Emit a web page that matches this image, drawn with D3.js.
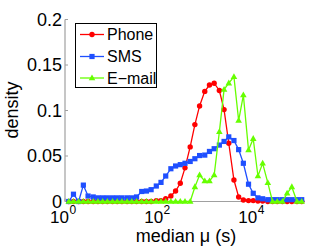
<!DOCTYPE html>
<html><head><meta charset="utf-8">
<script src="https://cdn.jsdelivr.net/npm/d3@7"></script>
<style>body{margin:0;background:#fff}svg{display:block}text{font-family:"Liberation Sans",Arial,sans-serif}</style>
</head><body><svg id="c" width="332" height="250"></svg>
<script>
// log10 of bin centres (median μ in seconds)
const binExponents = [0.08,0.18,0.29,0.39,0.49,0.60,0.70,0.80,0.90,1.01,1.11,1.21,1.32,1.42,1.52,1.63,1.73,1.83,1.94,2.04,2.14,2.25,2.35,2.45,2.55,2.66,2.76,2.86,2.97,3.07,3.17,3.28,3.38,3.48,3.59,3.69,3.79,3.90,4.00,4.10,4.20,4.31,4.41,4.51,4.62,4.72,4.82,4.93,5.03];
const phone = [0,0,0,0,0,0,0,0,0,0,0,0,0,0,0,0,0,0,0.001,0.001,0.003,0.006,0.0115,0.02,0.037,0.06,0.0845,0.105,0.121,0.128,0.13,0.122,0.101,0.064,0.0236,0.005,0.0017,0.001,0.001,0.0005,0.0005,0,0,0,0,0,0,0,0];
const sms = [0,0.008,0,0.018,0.006,0.005,0.004,0.004,0.004,0.004,0.004,0.004,0.004,0.004,0.005,0.011,0.0115,0.013,0.017,0.021,0.028,0.036,0.039,0.0405,0.042,0.044,0.047,0.0505,0.051,0.055,0.058,0.062,0.066,0.071,0.067,0.057,0.042,0.019,0.009,0.004,0.003,0.002,0.002,0.002,0.002,0.002,0.002,0.002,0.002];
const email = [0,0,0,0,0,0,0,0,0,0,0,0,0,0,0,0,0,0,0,0,0,0,0,0,0,0,0.016,0.029,0.0225,0.0225,0.029,0.0765,0.123,0.13,0.137,0.089,0.117,0.0565,0.069,0.028,0.042,0.0205,0,0,0,0.009,0.016,0,0];
const seriesNames = ["Phone","SMS","E\u2212mail"];
const seriesColors = ["#ff0000","#1f4fff","#66ff00"];
const yTicks = [0,0.05,0.1,0.15,0.2];
const yTickLabels = ["0","0.05","0.1","0.15","0.2"];
const xTickExps = [0,2,4];

const svg = d3.select("#c");
const x = d3.scaleLog().domain([1, Math.pow(10,5.1)]).range([65, 305]);
const y = d3.scaleLinear().domain([0,0.2]).range([201.5, 19.5]);
const xs = binExponents.map(e => Math.pow(10,e));

// axes
const axisCol = "#a0a0a0";
svg.append("line").attr("x1",65).attr("x2",65).attr("y1",y(0.2)).attr("y2",y(0)).attr("stroke",axisCol).attr("stroke-width",1.2);
svg.append("line").attr("x1",65).attr("x2",x.range()[1]).attr("y1",y(0)).attr("y2",y(0)).attr("stroke",axisCol).attr("stroke-width",1.2);
yTicks.forEach((t,i)=>{
  svg.append("line").attr("x1",65).attr("x2",68).attr("y1",y(t)).attr("y2",y(t)).attr("stroke",axisCol);
  svg.append("text").attr("x",62).attr("y",y(t)).attr("dy","0.34em").attr("text-anchor","end")
    .attr("font-size",18).text(yTickLabels[i]);
});
xTickExps.forEach(e=>{
  const px = x(Math.pow(10,e));
  svg.append("line").attr("x1",px).attr("x2",px).attr("y1",y(0)).attr("y2",y(0)-3).attr("stroke",axisCol);
  svg.append("text").attr("x",px+4).attr("y",223).attr("text-anchor","end").attr("font-size",17).text("10");
  svg.append("text").attr("x",px+4.5).attr("y",214).attr("text-anchor","start").attr("font-size",12).text(String(e));
});
svg.append("text").attr("transform","translate(18,110) rotate(-90)").attr("text-anchor","middle").attr("font-size",18).text("density");
svg.append("text").attr("x",186).attr("y",242).attr("text-anchor","middle").attr("font-size",18).text("median \u03bc (s)");

const line = d3.line().x((d,i)=>x(xs[i])).y(d=>y(d));
const data = [phone, sms, email];
data.forEach((vals,si)=>{
  const g = svg.append("g");
  g.append("path").attr("d",line(vals)).attr("fill","none").attr("stroke",seriesColors[si]).attr("stroke-width",1.3);
  vals.forEach((v,i)=>{
    drawMarker(g, si, x(xs[i]), y(v));
  });
});
function drawMarker(g, si, cx, cy){
  const c = seriesColors[si];
  if(si===0) g.append("circle").attr("cx",cx).attr("cy",cy).attr("r",2.7).attr("fill",c);
  else if(si===1) g.append("rect").attr("x",cx-2.6).attr("y",cy-2.6).attr("width",5.2).attr("height",5.2).attr("fill",c);
  else g.append("path").attr("d",`M${cx},${cy-3.6}L${cx+3.3},${cy+2.2}L${cx-3.3},${cy+2.2}Z`).attr("fill",c);
}

// legend
const lg = svg.append("g");
lg.append("rect").attr("x",75.5).attr("y",23.5).attr("width",81).attr("height",64).attr("fill","#fff").attr("stroke","#000").attr("stroke-width",1);
const ly = [34.5,56.5,78];
seriesNames.forEach((n,i)=>{
  lg.append("line").attr("x1",80).attr("x2",104).attr("y1",ly[i]).attr("y2",ly[i]).attr("stroke",seriesColors[i]).attr("stroke-width",1.3);
  drawMarker(lg, i, 92, ly[i]);
  lg.append("text").attr("x",107).attr("y",ly[i]).attr("dy","0.36em").attr("font-size",16).text(n);
});
</script></body></html>
